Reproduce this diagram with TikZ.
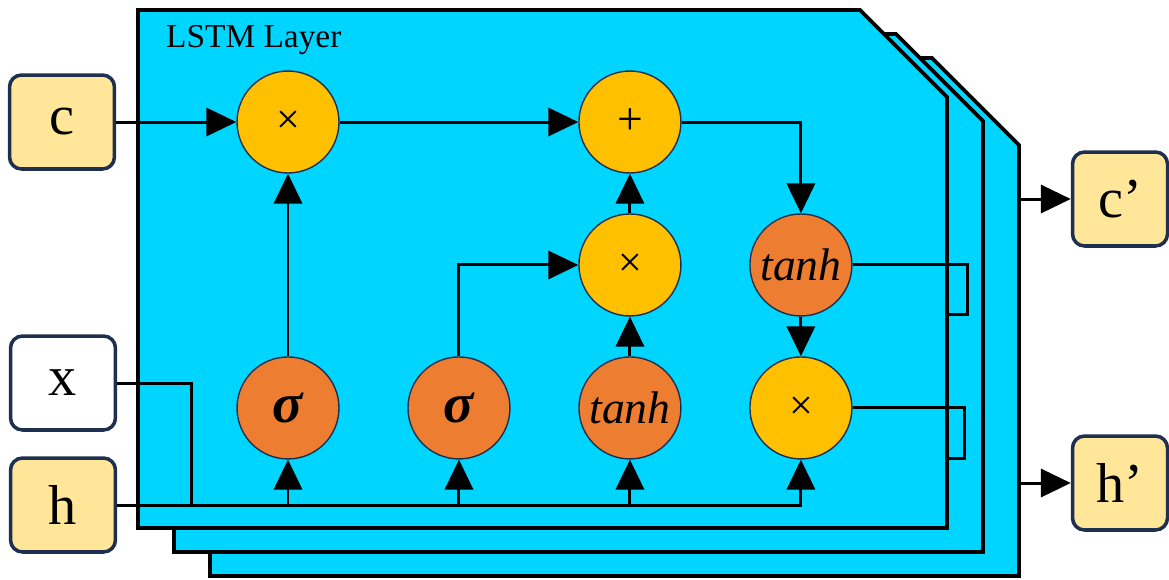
\documentclass[tikz,border=0pt]{standalone}
\usepackage{fontspec}
\setmainfont{Liberation Serif}
\usetikzlibrary{positioning,arrows.meta}
\definecolor{layercyan}{HTML}{00D5FF}
\definecolor{gateyellow}{HTML}{FFC000}
\definecolor{actorange}{HTML}{ED7D31}
\definecolor{boxyellow}{HTML}{FFE699}
\definecolor{navy}{HTML}{1F2F4F}
\begin{document}
\begin{tikzpicture}[x=0.02cm, y=-0.02cm, on grid, node distance=2.86cm and 3.42cm,
	layer/.style={draw, fill=layercyan, line width=2.2pt},
	io/.style={draw=navy, fill=boxyellow, line width=2pt, rounded corners=0.24cm, minimum width=2.1cm, minimum height=1.88cm, font=\fontsize{32}{36}\selectfont},
	op/.style={circle, draw=navy, line width=0.8pt, fill=gateyellow, minimum size=2.04cm, inner sep=0pt, font=\fontsize{24}{28}\selectfont},
	act/.style={op, fill=actorange, font=\fontsize{26}{30}\selectfont\itshape},
	wire/.style={line width=1.7pt},
	arr/.style={wire, -{Triangle[length=17pt, width=16pt]}}]
	\useasboundingbox (0,0) rectangle (1169,579);
	\foreach \d in {2,1,0}
		\draw[layer, shift={(36*\d,24*\d)}] (138,10) -- (860,10) -- (947,97) -- (947,528) -- (138,528) -- cycle;
	\node[anchor=base west, font=\fontsize{19}{22}\selectfont] (title) at (160,47) {LSTM Layer};
	\node[io] (c) at (62,122) {c};
	\node[io, fill=white] (x) at (63,383) {x};
	\node[io] (h) at (63,505) {h};
	\node[io, minimum width=1.9cm] (cp) at (1120,199) {c’};
	\node[io, minimum width=1.9cm] (hp) at (1120,483) {h’};
	\node[op] (m1) at (288,122) {×};
	\node[act, font=\fontsize{32}{36}\selectfont\itshape] (s1) [below=5.72cm of m1] {\bfseries σ};
	\node[act, font=\fontsize{32}{36}\selectfont\itshape] (s2) [right=of s1] {\bfseries σ};
	\node[act] (t1) [right=of s2] {tanh};
	\node[op] (m3) [right=of t1] {×};
	\node[op] (m2) [above=of t1] {×};
	\node[op, font=\fontsize{26}{30}\selectfont] (add) [above=of m2] {+};
	\node[act] (t2) [right=of m2] {tanh};
	\coordinate (rim) at (1019,0);
	\draw[arr] (c) -- (m1);
	\draw[arr] (m1) -- (add);
	\draw[arr] (s1) -- (m1);
	\draw[arr] (s2) |- (m2);
	\draw[arr] (t1) -- (m2);
	\draw[arr] (m2) -- (add);
	\draw[arr] (add) -| (t2);
	\draw[arr] (t2) -- (m3);
	\draw[wire] (x.east) -| ([xshift=1.48cm]h.east);
	\draw[arr] (h.east) -| (m3);
	\foreach \n in {s1,s2,t1}
		\draw[arr] (\n |- h.east) -- (\n);
	\draw[wire] (t2.east) -- ++(115,0) -- ++(0,50) -- ++(-21,0);
	\draw[wire] (m3.east) -- ++(112,0) -- ++(0,51) -- ++(-18,0);
	\draw[arr] (rim |- cp) -- (cp);
	\draw[arr] (rim |- hp) -- (hp);
\end{tikzpicture}
\end{document}
